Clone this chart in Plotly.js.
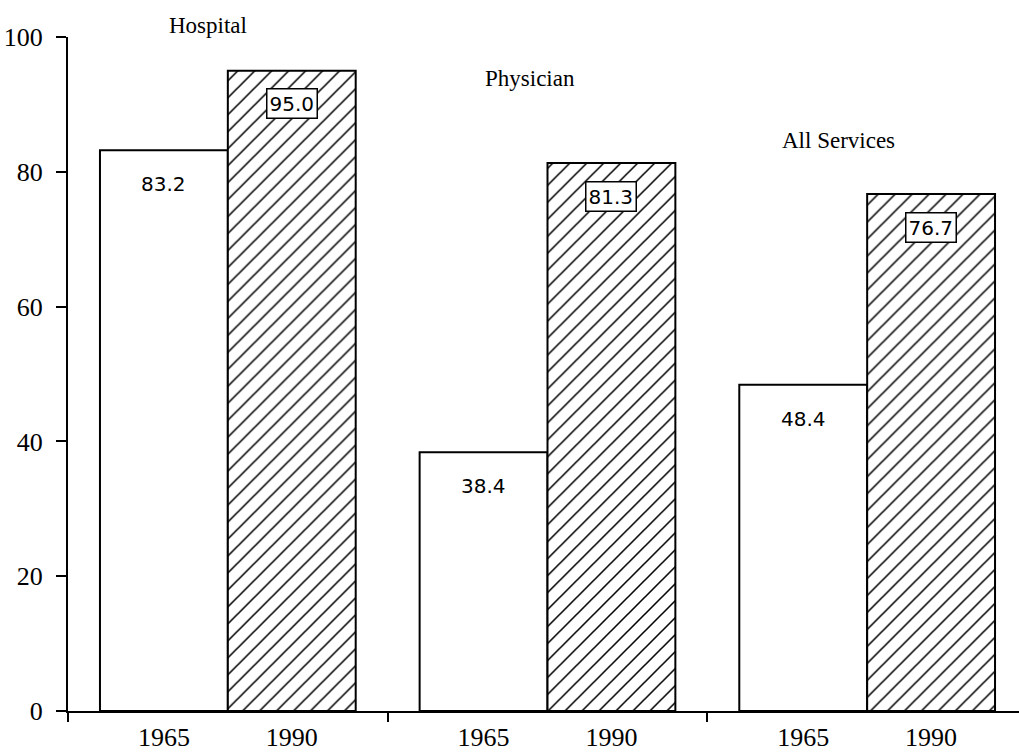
<!DOCTYPE html>
<html>
<head>
<meta charset="utf-8">
<script src="https://cdn.plot.ly/plotly-3.0.1.min.js"></script>
<style>html,body{margin:0;padding:0;background:#fff;}#chart{width:1019px;height:754px;}</style>
</head>
<body>
<div id="chart"></div>
<script>
const categories = ['Hospital', 'Physician', 'All Services'];
const years = ['1965', '1990'];
const values1965 = [83.2, 38.4, 48.4];
const values1990 = [95.0, 81.3, 76.7];
const yTicks = [0, 20, 40, 60, 80, 100];

const xIdx = categories.map((c, i) => i);
const serif = 'Liberation Serif, Times New Roman, serif';
const sans = 'DejaVu Sans, sans-serif';

const traces = [
  {
    type: 'bar', name: years[0], x: xIdx, y: values1965,
    marker: { color: '#ffffff', line: { color: '#000', width: 2 } },
    hoverinfo: 'skip'
  },
  {
    type: 'bar', name: years[1], x: xIdx, y: values1990,
    marker: {
      color: '#ffffff', line: { color: '#000', width: 2 },
      pattern: { shape: '/', fgcolor: '#000', bgcolor: '#fff', size: 12, solidity: 0.13 }
    },
    hoverinfo: 'skip'
  }
];

const annotations = [];
xIdx.forEach(i => {
  annotations.push({
    x: i - 0.2, y: values1965[i], xref: 'x', yref: 'y',
    text: values1965[i].toFixed(1), showarrow: false, yshift: -34,
    font: { family: sans, size: 20, color: '#000' }
  });
  annotations.push({
    x: i + 0.2, y: values1990[i], xref: 'x', yref: 'y',
    text: values1990[i].toFixed(1), showarrow: false, yshift: -33,
    bgcolor: '#fff', bordercolor: '#000', borderwidth: 1.5, borderpad: 2,
    font: { family: sans, size: 20, color: '#000' }
  });
});
// group titles (placed above each group's bars)
const titleShift = [-20, -18, -29];
const titleY = [100, 93.8, 84.7];
const titleYShift = [12, 0, 0];
categories.forEach((c, i) => {
  annotations.push({
    x: i, y: titleY[i], xref: 'x', yref: 'y', xshift: titleShift[i], yshift: titleYShift[i],
    text: c, showarrow: false,
    font: { family: serif, size: 23, color: '#000' }
  });
});

const xr = [-0.5, 2.475];
const yearTickVals = [], yearTickText = [];
xIdx.forEach(i => {
  yearTickVals.push(i - 0.2, i + 0.2);
  yearTickText.push(years[0], years[1]);
});

const layout = {
  width: 1019, height: 754,
  margin: { l: 68, r: 0, t: 37, b: 43, pad: 0 },
  paper_bgcolor: '#fff', plot_bgcolor: '#fff',
  showlegend: false,
  barmode: 'group', bargap: 0.2, bargroupgap: 0,
  xaxis: {
    type: 'linear', range: xr, fixedrange: true,
    tickmode: 'array', tickvals: [-0.5, 0.5, 1.5],
    ticks: 'outside', ticklen: 9, tickwidth: 2, tickcolor: '#000',
    showticklabels: false, showgrid: false, zeroline: false,
    showline: true, linecolor: '#000', linewidth: 2
  },
  xaxis2: {
    type: 'linear', range: xr, overlaying: 'x', anchor: 'y', side: 'bottom',
    tickmode: 'array', tickvals: yearTickVals, ticktext: yearTickText,
    ticks: '', showgrid: false, zeroline: false, showline: false,
    ticklabelstandoff: 8,
    tickfont: { family: serif, size: 26, color: '#000' }
  },
  yaxis: {
    range: [0, 100], fixedrange: true,
    tickmode: 'array', tickvals: yTicks,
    ticks: 'outside', ticklen: 10, tickwidth: 2, tickcolor: '#000',
    showgrid: false, zeroline: false,
    showline: true, linecolor: '#000', linewidth: 2,
    ticklabelstandoff: 8,
    tickfont: { family: serif, size: 26, color: '#000' }
  },
  annotations: annotations
};

// invisible trace to activate the year-label axis
traces.push({ type: 'scatter', x: [0], y: [0], xaxis: 'x2', yaxis: 'y', mode: 'markers', marker: { opacity: 0 }, hoverinfo: 'skip', showlegend: false });

Plotly.newPlot('chart', traces, layout, { staticPlot: true, displayModeBar: false });
</script>
</body>
</html>
